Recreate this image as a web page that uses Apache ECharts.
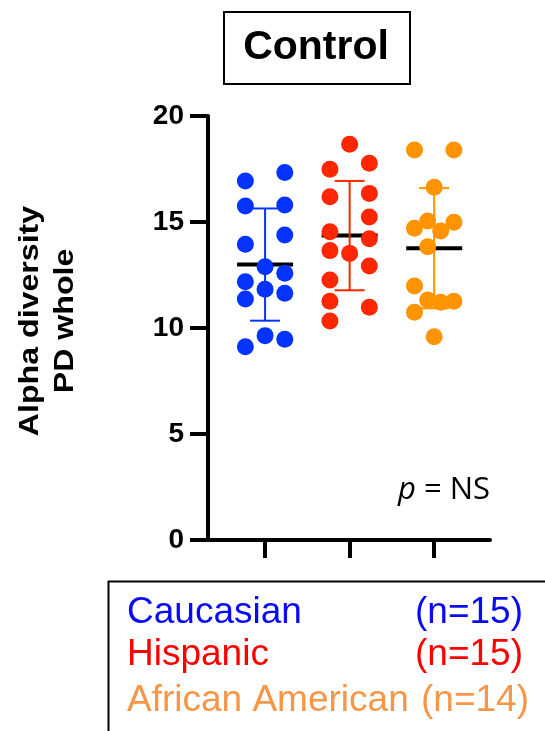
<!DOCTYPE html>
<html>
<head>
<meta charset="utf-8">
<script src="https://cdn.jsdelivr.net/npm/echarts@6/dist/echarts.min.js"></script>
<style>
  html, body { margin: 0; padding: 0; background: #ffffff; }
  #chart { width: 545px; height: 731px; }
</style>
</head>
<body>
<div id="chart"></div>
<script>
// Groups and their per-subject PD whole-tree values
var groups = ['Caucasian', 'Hispanic', 'African American'];
var groupCounts = ['(n=15)', '(n=15)', '(n=14)'];

var caucasianValues = [16.93, 17.34, 15.75, 15.80, 14.39, 13.95, 12.89, 12.58, 12.18, 11.83, 11.64, 11.37, 9.64, 9.47, 9.12];
var hispanicValues = [18.67, 17.49, 17.77, 16.19, 16.35, 15.24, 14.54, 14.21, 13.65, 13.52, 12.92, 12.26, 11.26, 10.98, 10.33];
var africanAmericanValues = [18.40, 18.40, 16.64, 14.70, 15.05, 14.58, 14.99, 13.83, 11.98, 11.32, 11.21, 11.26, 10.74, 9.59];

// Horizontal spread lane of each dot within its column (-1 left, 0 centre, 1 right)
var caucasianLanes = [-1, 1, -1, 1, 1, -1, 0, 1, -1, 0, 1, -1, 0, 1, -1];
var hispanicLanes = [0, -1, 1, -1, 1, 1, -1, 1, -1, 0, 1, -1, -1, 1, -1];
var africanAmericanLanes = [-1, 1, 0, -1, -0.33, 0.33, 1, -0.33, -1, -0.33, 0.33, 1, -1, 0];

var yTicks = [0, 5, 10, 15, 20];
var yAxisTitle = ['Alpha diversity', 'PD whole'];
var panelTitle = 'Control';
var pValueText = 'NS';

var dotColors = ['#0433FF', '#FF2600', '#FF9300'];
var legendColors = ['#0A0AF5', '#FF0000', '#F79646'];

var groupValues = [caucasianValues, hispanicValues, africanAmericanValues];
var groupLanes = [caucasianLanes, hispanicLanes, africanAmericanLanes];
var LANE = 0.233;

function mean(a) { return a.reduce(function (s, v) { return s + v; }, 0) / a.length; }
function sd(a) {
  var m = mean(a);
  return Math.sqrt(a.reduce(function (s, v) { return s + (v - m) * (v - m); }, 0) / (a.length - 1));
}
var summary = groupValues.map(function (vals, i) { return [i + 1, mean(vals), sd(vals)]; });

var chart = echarts.init(document.getElementById('chart'), null, { renderer: 'canvas' });
var FONT = '"Liberation Sans", Arial, sans-serif';

var scatterSeries = groupValues.map(function (vals, i) {
  return {
    type: 'scatter',
    xAxisIndex: 0, yAxisIndex: 0,
    symbolSize: 17,
    itemStyle: { color: dotColors[i], opacity: 1 },
    z: 3,
    silent: true,
    data: vals.map(function (v, k) { return [i + 1 + groupLanes[i][k] * LANE, v]; })
  };
});

var option = {
  backgroundColor: '#ffffff',
  animation: false,
  grid: [
    { left: 208, top: 116, width: 282, height: 424 },
    { left: 222.75, top: 116, width: 253.5, height: 424 }
  ],
  xAxis: [
    {
      type: 'value', gridIndex: 0, min: 0.325, max: 3.66,
      axisLine: { show: true, onZero: false, lineStyle: { color: '#000', width: 4 } },
      axisTick: { show: false }, axisLabel: { show: false }, splitLine: { show: false }
    },
    {
      type: 'category', gridIndex: 1, data: groups,
      axisLine: { show: false },
      axisTick: { show: true, alignWithLabel: true, interval: 0, length: 18, lineStyle: { color: '#000', width: 4 } },
      axisLabel: { show: false, interval: 0 }, splitLine: { show: false }
    }
  ],
  yAxis: [
    {
      type: 'value', gridIndex: 0, min: yTicks[0], max: yTicks[yTicks.length - 1], interval: 5,
      axisLine: { show: true, lineStyle: { color: '#000', width: 4 } },
      axisTick: { show: true, length: 18, lineStyle: { color: '#000', width: 4 } },
      axisLabel: { show: true, margin: 24, color: '#000', fontSize: 28, fontWeight: 'bold', fontFamily: FONT },
      splitLine: { show: false }
    },
    { type: 'value', gridIndex: 1, min: 0, max: 20, show: false }
  ],
  series: [
    {
      // mean lines
      type: 'custom', xAxisIndex: 0, yAxisIndex: 0, z: 2, silent: true,
      data: summary,
      renderItem: function (params, api) {
        var c = api.coord([api.value(0), api.value(1)]);
        return {
          type: 'line',
          shape: { x1: c[0] - 28, y1: c[1], x2: c[0] + 28, y2: c[1] },
          style: { stroke: '#000', lineWidth: 4 }
        };
      }
    }
  ].concat(scatterSeries).concat([
    {
      // standard deviation bars
      type: 'custom', xAxisIndex: 0, yAxisIndex: 0, z: 4, silent: true,
      data: summary,
      renderItem: function (params, api) {
        var x = api.value(0), m = api.value(1), s = api.value(2);
        var top = api.coord([x, m + s]);
        var bot = api.coord([x, m - s]);
        var col = dotColors[params.dataIndex];
        var st = { stroke: col, lineWidth: 2 };
        return {
          type: 'group',
          children: [
            { type: 'line', shape: { x1: top[0], y1: top[1], x2: bot[0], y2: bot[1] }, style: st },
            { type: 'line', shape: { x1: top[0] - 15, y1: top[1], x2: top[0] + 15, y2: top[1] }, style: st },
            { type: 'line', shape: { x1: bot[0] - 15, y1: bot[1], x2: bot[0] + 15, y2: bot[1] }, style: st }
          ]
        };
      }
    }
  ]),
  graphic: [
    {
      type: 'rect', left: 223, top: 11,
      shape: { width: 186, height: 72 },
      style: { fill: '#fff', stroke: '#000', lineWidth: 2 }
    },
    {
      type: 'text', x: 316, y: 48,
      style: { text: panelTitle, fill: '#000', font: 'bold 41px ' + FONT, textAlign: 'center', textVerticalAlign: 'middle' }
    },
    {
      type: 'text', x: 48, y: 321, rotation: Math.PI / 2, scaleX: 1.19,
      style: {
        text: yAxisTitle.join('\n'), fill: '#000', font: 'bold 27px ' + FONT,
        textAlign: 'center', textVerticalAlign: 'middle', lineHeight: 35
      }
    },
    {
      type: 'text', x: 398, y: 490,
      style: {
        text: '{i|p} = ' + pValueText,
        fill: '#000', font: '31px "Open Sans", sans-serif',
        textVerticalAlign: 'middle',
        rich: { i: { fontStyle: 'italic', font: 'italic 31px "Open Sans", sans-serif' } }
      }
    },
    {
      type: 'rect', left: 106, top: 579,
      shape: { width: 460, height: 200 },
      style: { fill: 'none', stroke: '#000', lineWidth: 2 }
    }
  ]
};

// legend rows: group name and count, each in its group colour
var rowY = [613, 655, 700.5];
var countX = [415, 415, 421];
groups.forEach(function (g, i) {
  option.graphic.push({
    type: 'text', x: 127, y: rowY[i],
    style: { text: g, fill: legendColors[i], font: '37px ' + FONT, textVerticalAlign: 'middle' }
  });
  option.graphic.push({
    type: 'text', x: countX[i], y: rowY[i],
    style: { text: groupCounts[i], fill: legendColors[i], font: '37px ' + FONT, textVerticalAlign: 'middle' }
  });
});

chart.setOption(option);
</script>
</body>
</html>
